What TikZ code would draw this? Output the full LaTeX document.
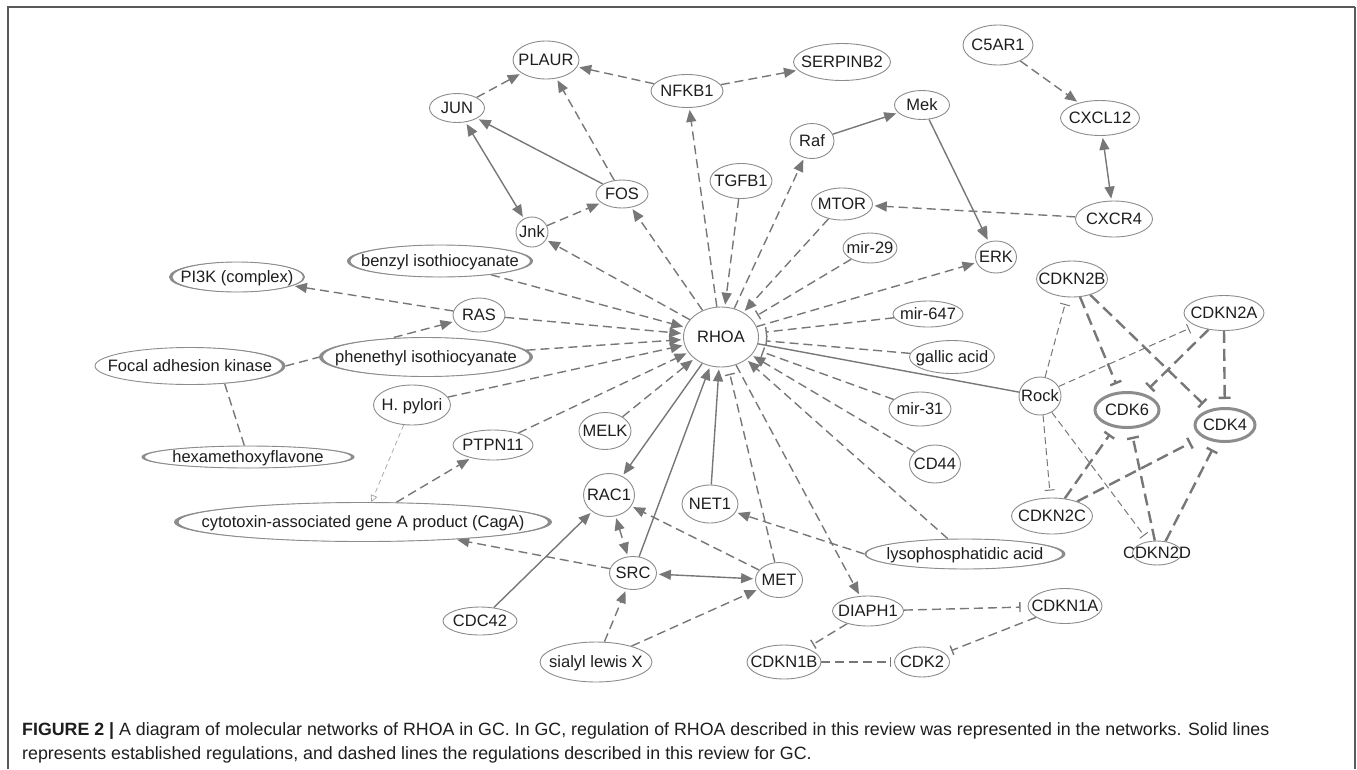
\documentclass[tikz,border=0pt]{standalone}
\usepackage{fontspec}
\setmainfont{Liberation Sans}
\usetikzlibrary{shapes.geometric,arrows.meta,backgrounds,calc}
\definecolor{eg}{HTML}{777777}
\definecolor{ng}{HTML}{8C8C8C}
\definecolor{tx}{HTML}{1E1E1E}
\definecolor{fr}{HTML}{5A5A5A}
\newcommand\lab[1]{\makebox[0pt]{\raisebox{-0.36em}[0pt][0pt]{#1}}}
\newcommand\cresL[4]{%
  \begin{scope}
  \clip ([shift={(-#2-3,-#3-3)}]#1.center) rectangle ([shift={(0,#3+3)}]#1.center);
  \fill[ng,even odd rule] (#1.center) ellipse [x radius=#2, y radius=#3]
     ([xshift=#4pt]#1.center) ellipse [x radius=#2, y radius=#3];
  \end{scope}}
\newcommand\cresR[4]{%
  \begin{scope}
  \clip ([shift={(0,-#3-3)}]#1.center) rectangle ([shift={(#2+3,#3+3)}]#1.center);
  \fill[ng,even odd rule] (#1.center) ellipse [x radius=#2, y radius=#3]
     ([xshift=-#4pt]#1.center) ellipse [x radius=#2, y radius=#3];
  \end{scope}}
\tikzset{
  nd/.style={ellipse, draw=ng, line width=0.9pt, fill=white, inner sep=0pt, text=tx,
    font=\fontsize{16.5}{18}\selectfont},
  sz/.style 2 args={minimum width=#1pt, minimum height=#2pt},
  cdk/.style={line width=3pt},
  ln/.style={draw=eg, line width=1.4pt},
  dsh/.style={ln, dash pattern=on 9pt off 5pt},
  thin/.style={draw=eg, line width=1pt, dash pattern=on 7pt off 4pt},
  thick/.style={draw=eg, line width=2.4pt, dash pattern=on 12pt off 6pt},
  ar/.style={-{Triangle[length=12pt,width=10pt]}, shorten >=2pt},
  dar/.style={{Triangle[length=12pt,width=10pt]}-{Triangle[length=12pt,width=10pt]}, shorten >=2pt, shorten <=2pt},
  inh/.style={-{Bar[width=10pt]}, shorten >=7pt},
  inhk/.style={-{Bar[width=12pt]}, shorten >=8pt},
  capt/.style={anchor=west, inner sep=0pt, text=tx, font=\fontsize{17.8}{20}\selectfont},
}
\begin{document}
\begin{tikzpicture}[x=1pt,y=-1pt]
\useasboundingbox (0,0) rectangle (1357,769);
\draw[fr, line width=1.4pt] (8,769) -- (8,7) -- (1355,7);
\draw[fr, line width=2.4pt] (1355,7) -- (1355,769);

% nodes
\node[nd,sz={66}{38}] (PLAUR) at (546,60) {\lab{PLAUR}};
\node[nd,sz={55}{29}] (JUN) at (457,108) {\lab{JUN}};
\node[nd,sz={72}{33}] (NFKB1) at (687,91) {\lab{NFKB1}};
\node[nd,sz={97}{37}] (SERPINB2) at (842,62) {\lab{SERPINB2}};
\node[nd,sz={70}{40}] (C5AR1) at (998,45) {\lab{C5AR1}};
\node[nd,sz={55}{29}] (Mek) at (922,105) {\lab{Mek}};
\node[nd,sz={79}{35}] (CXCL12) at (1100,118) {\lab{CXCL12}};
\node[nd,sz={44}{35}] (Raf) at (812,141) {\lab{Raf}};
\node[nd,sz={52}{28}] (FOS) at (622,194) {\lab{FOS}};
\node[nd,sz={62}{35}] (TGFB1) at (741,181) {\lab{TGFB1}};
\node[nd,sz={61}{32}] (MTOR) at (842,204) {\lab{MTOR}};
\node[nd,sz={77}{36}] (CXCR4) at (1114,219) {\lab{CXCR4}};
\node[nd,sz={32}{30}] (Jnk) at (532,232) {\lab{Jnk}};
\node[nd,sz={54}{30}] (mir29) at (870,248) {\lab{mir-29}};
\node[nd,sz={41}{32}] (ERK) at (996,257) {\lab{ERK}};
\node[nd,sz={185}{32}] (benzyl) at (440,261) {\lab{benzyl isothiocyanate}};
\node[nd,sz={135}{30}] (PI3K) at (237,277) {\lab{PI3K (complex)}};
\node[nd,sz={71}{36}] (CDKN2B) at (1072,279) {\lab{CDKN2B}};
\node[nd,sz={52}{34}] (RAS) at (479,315) {\lab{RAS}};
\node[nd,sz={80}{35}] (CDKN2A) at (1224,313) {\lab{CDKN2A}};
\node[nd,sz={70}{26}] (mir647) at (928,314) {\lab{mir-647}};
\node[nd,sz={75}{60}] (RHOA) at (721,337) {\lab{RHOA}};
\node[nd,sz={213}{39}] (phen) at (426,357) {\lab{phenethyl isothiocyanate}};
\node[nd,sz={85}{33}] (gallic) at (952,357) {\lab{gallic acid}};
\node[nd,sz={190}{37}] (FAK) at (190,366) {\lab{Focal adhesion kinase}};
\node[nd,sz={42}{38}] (Rock) at (1040,396) {\lab{Rock}};
\node[nd,sz={77}{40}] (Hp) at (412,405) {\lab{H. pylori}};
\node[nd,sz={62}{34}] (mir31) at (920,409) {\lab{mir-31}};
\node[nd,sz={64}{35},cdk] (CDK6) at (1127,410) {\lab{CDK6}};
\node[nd,sz={60}{33},cdk] (CDK4) at (1225,425) {\lab{CDK4}};
\node[nd,sz={52}{37}] (MELK) at (605,431) {\lab{MELK}};
\node[nd,sz={80}{30}] (PTPN11) at (493,445) {\lab{PTPN11}};
\node[nd,sz={212}{22}] (hexa) at (248,457) {\lab{hexamethoxyflavone}};
\node[nd,sz={51}{38}] (CD44) at (935,464) {\lab{CD44}};
\node[nd,sz={51}{43}] (RAC1) at (609,495) {\lab{RAC1}};
\node[nd,sz={56}{38}] (NET1) at (710,504) {\lab{NET1}};
\node[nd,sz={81}{36}] (CDKN2C) at (1052,516) {\lab{CDKN2C}};
\node[nd,sz={377}{39}] (CagA) at (363,522) {\lab{cytotoxin-associated gene A product (CagA)}};
\node[nd,sz={200}{30}] (LPA) at (965,554) {\lab{lysophosphatidic acid}};
\node[nd,sz={49}{24}] (CDKN2D) at (1157,553) {\lab{CDKN2D}};
\node[nd,sz={47}{33}] (SRC) at (633,573) {\lab{SRC}};
\node[nd,sz={47}{35}] (MET) at (779,580) {\lab{MET}};
\node[nd,sz={74}{35}] (CDKN1A) at (1065,606) {\lab{CDKN1A}};
\node[nd,sz={71}{30}] (DIAPH1) at (868,611) {\lab{DIAPH1}};
\node[nd,sz={74}{28}] (CDC42) at (480,621) {\lab{CDC42}};
\node[nd,sz={112}{40}] (SLX) at (596,662) {\lab{sialyl lewis X}};
\node[nd,sz={74}{34}] (CDKN1B) at (784,662) {\lab{CDKN1B}};
\node[nd,sz={55}{30}] (CDK2) at (922,662) {\lab{CDK2}};

% crescents of chemical nodes
\cresL{benzyl}{92.5}{16}{3}\cresR{benzyl}{92.5}{16}{2.5}
\cresL{PI3K}{67.5}{15}{3}\cresR{PI3K}{67.5}{15}{1.5}
\cresL{phen}{106.5}{19.5}{3.5}\cresR{phen}{106.5}{19.5}{3}
\cresR{FAK}{95}{18.5}{3}
\cresL{hexa}{106}{11}{3}\cresR{hexa}{106}{11}{3}
\cresL{CagA}{188.5}{19.5}{4}\cresR{CagA}{188.5}{19.5}{3.5}
\cresR{LPA}{100}{15}{3}\cresL{LPA}{100}{15}{1.5}

\begin{pgfonlayer}{background}
% solid
\draw[ln,ar] (FOS) -- (JUN);
\draw[ln,ar] (Raf) -- (Mek);
\draw[ln,ar] (RHOA) -- (RAC1);
\draw[ln,ar] (NET1) -- (RHOA);
\draw[ln,ar] (SRC) -- (RHOA);
\draw[ln,ar] (CDC42) -- (RAC1);
\draw[ln,dar] (Jnk) -- (JUN);
\draw[ln,dar] (CXCL12) -- (CXCR4);
\draw[ln,dar] (SRC) -- (MET);
\draw[ln] (RHOA) -- (Rock);
\draw[ln,-{Bar[width=10pt] Triangle[length=12pt,width=10pt]}, shorten >=2pt] (Mek) -- (ERK);
% dashed arrows
\draw[dsh,ar] (JUN) -- (PLAUR);
\draw[dsh,ar] (NFKB1) -- (PLAUR);
\draw[dsh,ar] (NFKB1) -- (SERPINB2);
\draw[dsh,ar] (FOS) -- (PLAUR);
\draw[dsh,ar] (RHOA) -- (NFKB1);
\draw[dsh,ar] (RHOA) -- (FOS);
\draw[dsh,ar] (RHOA) -- (Jnk);
\draw[dsh,ar] (Jnk) -- (FOS);
\draw[dsh,ar] (TGFB1) -- (RHOA);
\draw[dsh,ar] (RHOA) -- (Raf);
\draw[dsh,ar] (MTOR) -- (RHOA);
\draw[dsh,ar] (CXCR4) -- (MTOR);
\draw[dsh,ar] (C5AR1) -- (CXCL12);
\draw[dsh,ar] (RHOA) -- (ERK);
\draw[dsh,ar] (benzyl) -- (RHOA);
\draw[dsh,ar] (RAS) -- (RHOA);
\draw[dsh,ar] (RAS) -- (PI3K);
\draw[dsh,ar] (FAK.east) -- (RAS);
\draw[dsh,ar] (phen) -- (RHOA);
\draw[dsh,ar] (Hp) -- (RHOA);
\draw[dsh,ar] (PTPN11) -- (RHOA);
\draw[dsh,ar] (MELK) -- (RHOA);
\draw[dsh,ar] (CD44) -- (RHOA);
\draw[dsh,ar] (LPA) -- (RHOA);
\draw[dsh,ar] (LPA.west) -- (NET1);
\draw[dsh,ar] (RHOA) -- (DIAPH1);
\draw[dsh,ar] (MET) -- (RAC1);
\draw[dsh,ar] (SRC) -- (CagA);
\draw[dsh,ar] (CagA) -- (PTPN11);
\draw[dsh,ar] (SLX) -- (SRC);
\draw[dsh,ar] (SLX) -- (MET);
\draw[dsh,dar] (RAC1) -- (SRC);
\draw[dsh] (FAK.-27) -- (hexa);
\draw[draw=ng!80, line width=0.7pt, dash pattern=on 5pt off 3.5pt,
  -{Triangle[open,length=7pt,width=7pt]}] (Hp) -- (CagA);
% inhibitions
\draw[dsh,inh] (mir29) -- (RHOA);
\draw[dsh,inh] (mir647) -- (RHOA);
\draw[dsh,inh] (gallic) -- (RHOA);
\draw[dsh,inh] (mir31) -- (RHOA);
\draw[dsh,inh] (MET) -- (RHOA);
\draw[dsh,inh] (DIAPH1) -- (CDKN1B);
\draw[dsh,inh] (DIAPH1) -- (CDKN1A);
\draw[dsh,inh,shorten >=3pt] (CDKN1B) -- (CDK2);
\draw[dsh,inh] (CDKN1A) -- (CDK2);
\draw[thin,inh] (Rock.75) -- (CDKN2B);
\draw[thin,inh] (Rock.27) -- (CDKN2A);
\draw[thin,inh] (Rock.-81) -- (CDKN2C);
\draw[thin,inh] (Rock.-54) -- (CDKN2D);
\draw[thick,inhk] (CDKN2B.-66) -- (CDK6);
\draw[thick,inhk] (CDKN2B.-41) -- (CDK4);
\draw[thick,inhk] (CDKN2A.-133) -- (CDK6);
\draw[thick,inhk] (CDKN2A.south) -- (CDK4);
\draw[thick,inhk] (CDKN2C.54) -- (CDK6);
\draw[thick,inhk,shorten >=12pt] (CDKN2C.30) -- (CDK4);
\draw[thick,inhk] (CDKN2D.100) -- (CDK6);
\draw[thick,inhk] (CDKN2D.54) -- (CDK4);
\end{pgfonlayer}

% caption
\node[capt] (cap1) at (22,731)
  {\textbf{FIGURE 2 |} A diagram of molecular networks of RHOA in GC. In GC, regulation of RHOA described in this review was represented in the networks. Solid lines};
\node[capt] (cap2) at (22,755)
  {represents established regulations, and dashed lines the regulations described in this review for GC.};
\end{tikzpicture}
\end{document}
